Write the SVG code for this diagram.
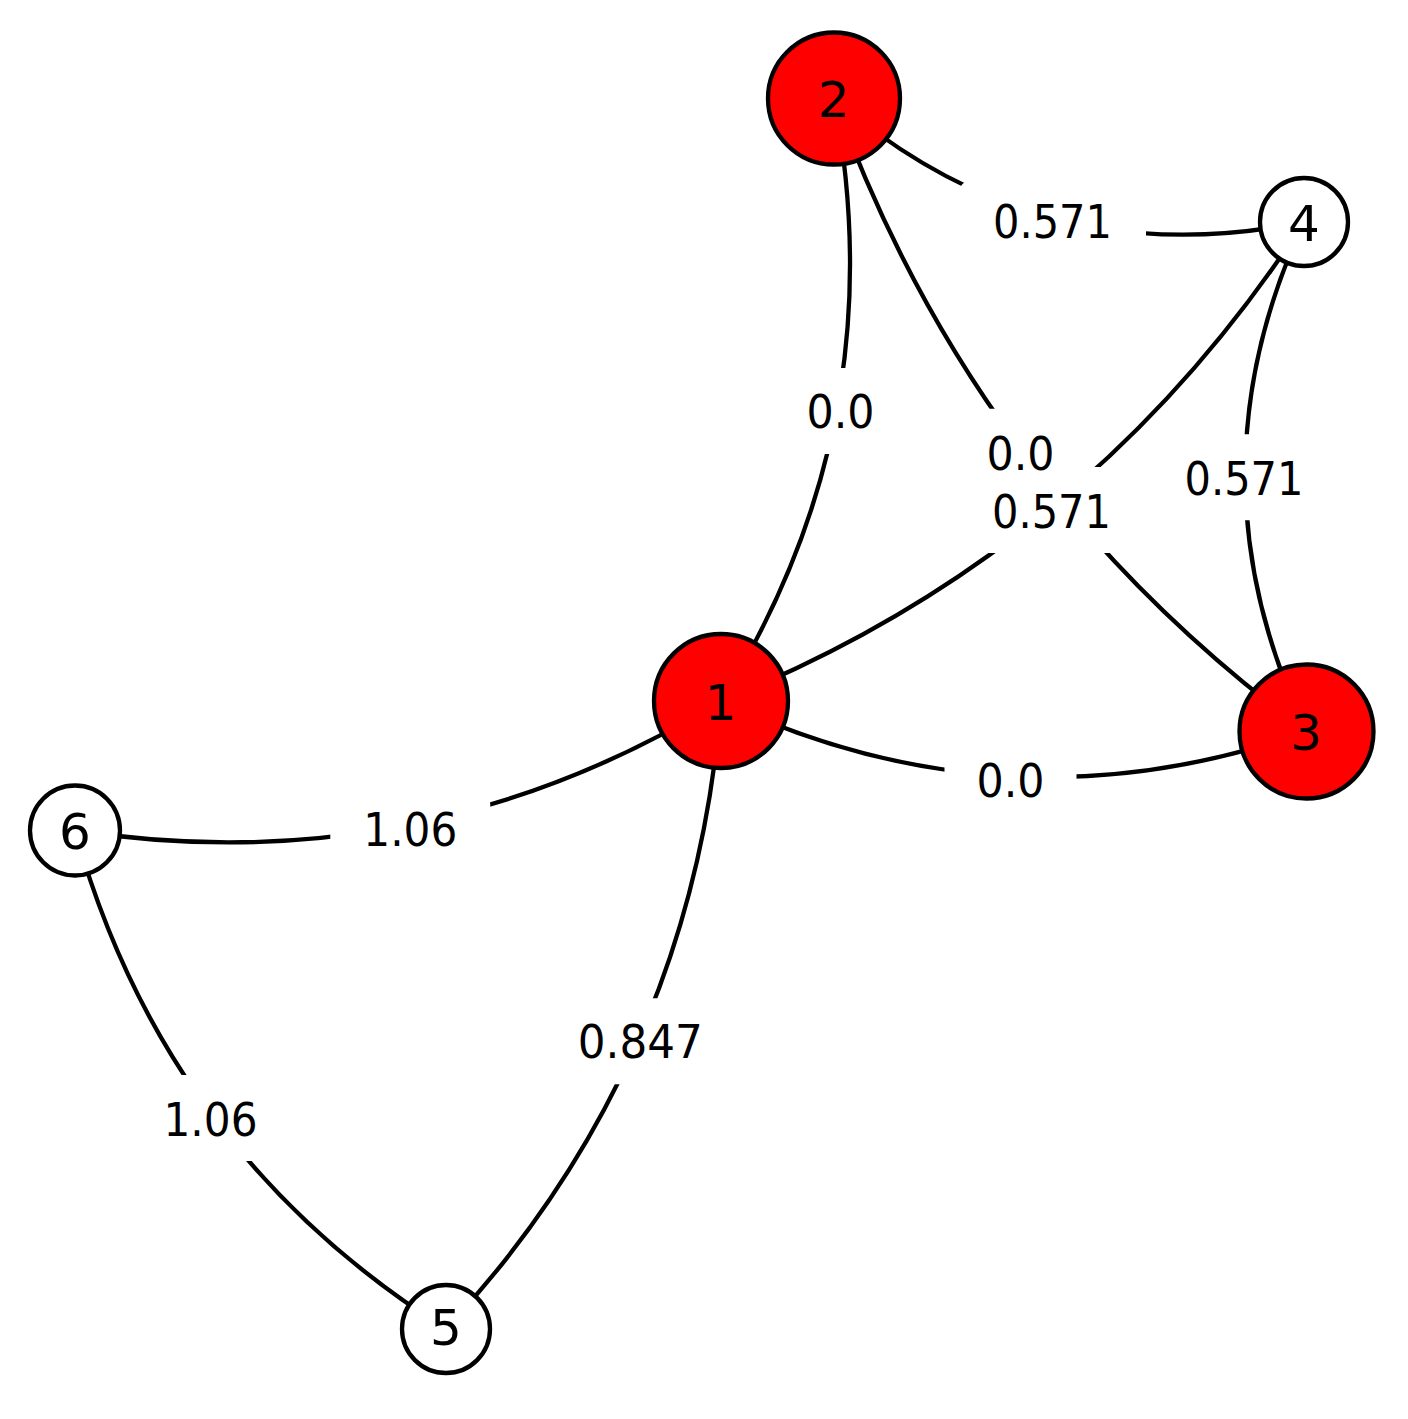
<svg xmlns="http://www.w3.org/2000/svg" width="1408" height="1419" viewBox="0 0 1408 1419">
<style>
.edge{fill:none;stroke:#000;stroke-width:4.3}
.node circle{stroke:#000;stroke-width:4.3}
.red{fill:#ff0000}
.white{fill:#ffffff}
.nl{font-family:"DejaVu Sans","Liberation Sans",sans-serif;font-size:50px;text-anchor:middle;fill:#000}
.box{fill:#fff}
.el{font-family:"DejaVu Sans","Liberation Sans",sans-serif;font-size:46px;text-anchor:middle;fill:#000}
</style>
<rect width="1408" height="1419" fill="#fff"/>
<g id="edges">
<path class="edge" d="M721,701 Q895.5,421.9 834,98.5"/>
<path class="edge" d="M721,701 Q1007.5,836.1 1306.5,731.5"/>
<path class="edge" d="M721,701 Q1088.7,554.2 1304,222"/>
<path class="edge" d="M721,701 Q693.4,1063.1 446,1329"/>
<path class="edge" d="M721,701 Q421.6,883.4 75,830.5"/>
<path class="edge" d="M834,98.5 Q974.1,486.8 1306.5,731.5"/>
<path class="edge" d="M834,98.5 Q1038.5,276.3 1304,222"/>
<path class="edge" d="M1306.5,731.5 Q1185.3,477.3 1304,222"/>
<path class="edge" d="M446,1329 Q164.2,1151.4 75,830.5"/>
</g>
<g id="edge-labels">
<rect class="box" x="774.5" y="368" width="132" height="86" rx="20"/>
<rect class="box" x="944.5" y="737" width="132" height="86" rx="20"/>
<rect class="box" x="956.3" y="467" width="189" height="86" rx="20"/>
<rect class="box" x="954.5" y="408.7" width="132" height="86" rx="20"/>
<rect class="box" x="957" y="178" width="189" height="86" rx="20"/>
<rect class="box" x="1148.8" y="434.2" width="189" height="86" rx="20"/>
<rect class="box" x="545.8" y="998.2" width="189" height="86" rx="20"/>
<rect class="box" x="330.3" y="785.5" width="160" height="86" rx="20"/>
<rect class="box" x="130.5" y="1075" width="160" height="86" rx="20"/>
<text class="el" x="840.5" y="427.5" textLength="68" lengthAdjust="spacingAndGlyphs">0.0</text>
<text class="el" x="1010.5" y="796.5" textLength="68" lengthAdjust="spacingAndGlyphs">0.0</text>
<text class="el" x="1051.5" y="527.5" textLength="119" lengthAdjust="spacingAndGlyphs">0.571</text>
<text class="el" x="1020.5" y="469.5" textLength="68" lengthAdjust="spacingAndGlyphs">0.0</text>
<text class="el" x="1052.5" y="237.5" textLength="119" lengthAdjust="spacingAndGlyphs">0.571</text>
<text class="el" x="1244" y="494.5" textLength="119" lengthAdjust="spacingAndGlyphs">0.571</text>
<text class="el" x="640.3" y="1058" textLength="125" lengthAdjust="spacingAndGlyphs">0.847</text>
<text class="el" x="410.3" y="846" textLength="94" lengthAdjust="spacingAndGlyphs">1.06</text>
<text class="el" x="210.5" y="1136" textLength="94" lengthAdjust="spacingAndGlyphs">1.06</text>
</g>
<g id="node-1" class="node"><circle class="red" cx="721" cy="701" r="67"/><text class="nl" x="721" y="720">1</text></g>
<g id="node-2" class="node"><circle class="red" cx="834" cy="98.5" r="66"/><text class="nl" x="834" y="117">2</text></g>
<g id="node-3" class="node"><circle class="red" cx="1306.5" cy="731.5" r="67"/><text class="nl" x="1306.5" y="749.5">3</text></g>
<g id="node-4" class="node"><circle class="white" cx="1304" cy="222" r="44"/><text class="nl" x="1304" y="240.5">4</text></g>
<g id="node-5" class="node"><circle class="white" cx="446" cy="1329" r="44"/><text class="nl" x="446" y="1345">5</text></g>
<g id="node-6" class="node"><circle class="white" cx="75" cy="830.5" r="45"/><text class="nl" x="75" y="849">6</text></g>
</svg>
